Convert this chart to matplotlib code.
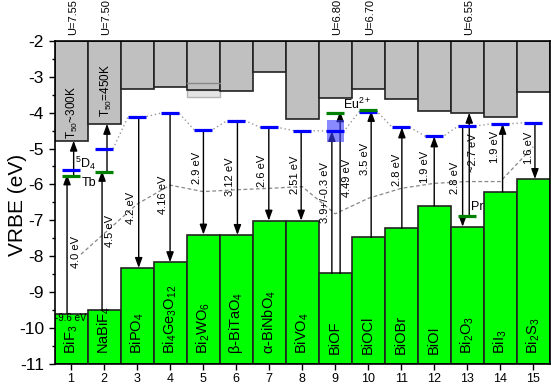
import numpy as np
import matplotlib
matplotlib.use("Agg")
import matplotlib.pyplot as plt
from matplotlib.patches import Rectangle

plt.rcParams['font.family'] = ['Liberation Sans', 'DejaVu Sans']
plt.rcParams['mathtext.fontset'] = 'custom'
plt.rcParams['mathtext.rm'] = 'Liberation Sans'
plt.rcParams['mathtext.it'] = 'Liberation Sans:italic'
plt.rcParams['mathtext.bf'] = 'Liberation Sans:bold'
plt.rcParams['mathtext.default'] = 'regular'

# ---------------- data ----------------
cats = np.arange(1, 16)
compounds = ['BiF$_3$', 'NaBiF$_4$', 'BiPO$_4$', 'Bi$_4$Ge$_3$O$_{12}$', 'Bi$_2$WO$_6$',
             'β-BiTaO$_4$', 'α-BiNbO$_4$', 'BiVO$_4$', 'BiOF', 'BiOCl', 'BiOBr', 'BiOI',
             'Bi$_2$O$_3$', 'BiI$_3$', 'Bi$_2$S$_3$']
cb_bottom = [-4.78, -4.31, -3.34, -3.29, -3.37, -3.39, -2.86, -4.18, -3.60, -3.35,
             -3.62, -3.95, -4.00, -4.13, -3.41]
vb_top = [-9.60, -9.51, -8.33, -8.17, -7.40, -7.41, -7.01, -7.01, -8.48, -7.48,
          -7.22, -6.60, -7.18, -6.21, -5.85]
bi_level = [-5.60, -5.01, -4.11, -4.01, -4.48, -4.22, -4.41, -4.50, -4.51, -3.97,
            -4.41, -4.66, -4.37, -4.31, -4.28]
bi9_uncert = 0.3
bar5_range = [-3.18, -3.55]

dop_cat = [1, 2, 9, 10, 13]
dop_level = [-5.76, -5.66, -4.00, -3.93, -6.88]

u_cat = [1, 2, 9, 10, 13]
u_text = ['U=7.55', 'U=7.50', 'U=6.80', 'U=6.70', 'U=6.55']

# lower dashed curve
dash_x = [1.3, 3.0, 4.0, 5.0, 6.0, 7.0, 8.0, 9.0, 10.0, 11.0, 12.0, 13.0, 14.0, 15.0]
dash_y = [-7.95, -6.55, -6.02, -6.20, -6.15, -6.11, -6.06, -6.82, -6.39, -6.11,
          -5.97, -5.92, -5.92, -4.95]

# arrows: x, start, end
arr_x = [0.88, 1.08, 1.94, 2.09, 3.05, 4.0, 5.01, 6.04, 6.99, 7.97, 8.90, 9.15,
         10.09, 11.02, 12.0, 12.86, 13.06, 14.07, 15.05]
arr_y0 = [-9.60, -5.76, -9.51, -5.66, -4.11, -4.01, -4.48, -4.22, -4.41, -4.50,
          -8.48, -8.48, -7.48, -7.22, -6.60, -4.37, -6.88, -6.21, -4.28]
arr_y1 = [-5.72, -4.78, -5.62, -4.31, -8.33, -8.17, -7.40, -7.41, -7.01, -7.01,
          -4.51, -3.96, -3.95, -4.41, -4.66, -7.18, -4.00, -4.31, -5.85]

# energy labels
e_text = ['4.0 eV', '4.5 eV', '4.2 eV', '4.16 eV', '2.9 eV', '3.12 eV', '2.6 eV',
          '2.51 eV', '3.9+/-0.3 eV', '4.49 eV', '3.5 eV', '2.8 eV', '1.9 eV',
          '2.8 eV', '~2.7 eV', '1.9 eV', '1.6 eV']
e_x = [1.16, 2.19, 2.82, 3.78, 4.81, 5.80, 6.78, 7.79, 8.70, 9.35, 9.91, 10.87,
       11.72, 12.63, 13.18, 13.84, 14.88]
e_y = [-7.88, -7.30, -6.66, -6.30, -5.53, -5.78, -5.62, -5.74, -6.22, -5.81, -5.29,
       -5.60, -5.50, -5.82, -5.12, -4.95, -4.98]

# ---------------- figure ----------------
W, H = 551, 386
fig = plt.figure(figsize=(W / 100, H / 100), dpi=100)
ax = fig.add_axes([54.5 / W, 1 - 363.7 / H, (549.8 - 54.5) / W, (363.7 - 41) / H])
ax.set_xlim(0.5, 15.5)
ax.set_ylim(-11, -2)

cb = np.array(cb_bottom)
vb = np.array(vb_top)
lev = np.array(bi_level)

# bar 5 uncertainty box
ax.add_patch(Rectangle((4.5, bar5_range[1]), 1.0, cb[4] - bar5_range[1],
                       facecolor='#e4e4e4', edgecolor='#b4b4b4', lw=1.0, zorder=1))
ax.bar(cats, -2 - cb, bottom=cb, width=1.0, color='#c0c0c0', edgecolor='#222222',
       lw=1.2, zorder=2)
ax.plot([4.5, 5.5], [bar5_range[0]] * 2, color='#888888', lw=1.0, zorder=3)
ax.bar(cats, vb + 11, bottom=-11, width=1.0, color='#00ff00', edgecolor='#222222',
       lw=1.2, zorder=2)

# dotted connector of Bi levels
px, py = [], []
for i in range(1, 15):
    if i > 1:
        px.append(cats[i] - 0.27)
        py.append(lev[i])
    px.append(cats[i] + 0.27)
    py.append(lev[i])
ax.plot(px, py, color='#999999', ls=(0, (1, 2)), lw=1.0, zorder=3)

ax.plot(dash_x, dash_y, color='#888888', ls=(0, (3, 2)), lw=0.9, zorder=3)

# arrows
for x, y0, y1 in zip(arr_x, arr_y0, arr_y1):
    ax.annotate('', xy=(x, y1), xytext=(x, y0),
                arrowprops=dict(arrowstyle='-|>,head_length=0.6,head_width=0.22',
                                color='black', lw=1.0, shrinkA=0, shrinkB=0),
                zorder=4)

# uncertainty box for BiOF
ax.add_patch(Rectangle((cats[8] - 0.26, lev[8] - bi9_uncert), 0.52, 2 * bi9_uncert,
                       facecolor='#3c3cff', edgecolor='none', alpha=0.6, zorder=5))

# levels
ax.hlines(lev, cats - 0.27, cats + 0.27, color='#0000ff', lw=2.3, zorder=6)
dc = np.array(dop_cat)
ax.hlines(dop_level, dc - 0.27, dc + 0.27, color='#008000', lw=2.3, zorder=6)

# energy labels
for t, x, y in zip(e_text, e_x, e_y):
    ax.text(x, y, t, rotation=90, ha='center', va='center', fontsize=8, zorder=7)

# compound labels
for c, name in zip(cats, compounds):
    ax.text(c, -10.74, name, rotation=90, ha='center', va='bottom', fontsize=10.5,
            zorder=7)

# U labels
for c, t in zip(u_cat, u_text):
    ax.text(c + 0.05, -1.83, t, rotation=90, ha='center', va='bottom', fontsize=8,
            clip_on=False)

ax.text(1.03, -4.74, 'T$_{50}$~300K', rotation=90, ha='center', va='bottom', fontsize=8.5)
ax.text(2.06, -4.12, 'T$_{50}$=450K', rotation=90, ha='center', va='bottom', fontsize=8.5)
ax.text(1.45, -5.42, '$^5$D$_4$', ha='center', va='center', fontsize=9, zorder=7)
ax.text(1.33, -5.97, 'Tb', ha='left', va='center', fontsize=9, zorder=7)
ax.text(9.25, -3.78, 'Eu$^{2+}$', ha='left', va='center', fontsize=9, zorder=7)
ax.text(13.1, -6.62, 'Pr', ha='left', va='center', fontsize=9, zorder=7)
ax.text(1.0, -9.73, '-9.6 eV', ha='center', va='center', fontsize=7, zorder=7)

# axes styling
ax.set_xticks(cats)
ax.set_xticklabels([str(c) for c in cats], fontsize=9)
ax.set_yticks(np.arange(-11, -1, 1))
ax.set_yticklabels([str(v) for v in range(-11, -1)], fontsize=12.5)
ax.set_yticks(np.arange(-10.5, -2, 1), minor=True)
ax.tick_params(axis='both', which='major', direction='out', length=4, width=1.0)
ax.tick_params(axis='y', which='minor', direction='out', length=2.5, width=1.0)
ax.tick_params(axis='x', pad=3)
for s in ax.spines.values():
    s.set_linewidth(1.2)
    s.set_zorder(8)

fig.text(18 / W, 1 - 205 / H, 'VRBE (eV)', rotation=90, ha='center', va='center',
         fontsize=15)

fig.savefig('out.png', dpi=100)
